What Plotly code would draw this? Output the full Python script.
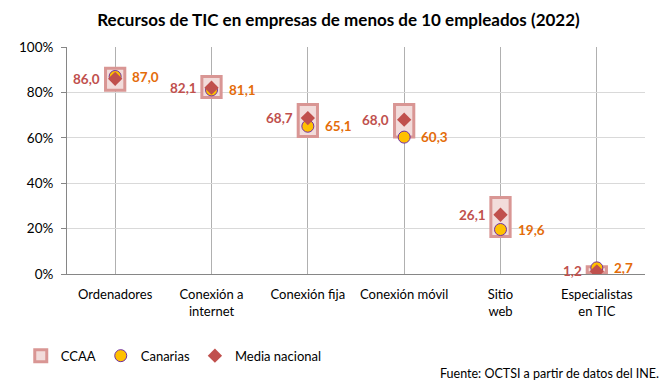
import plotly.graph_objects as go

categories = ["Ordenadores", "Conexión a<br>internet", "Conexión fija", "Conexión móvil", "Sitio<br>web", "Especialistas<br>en TIC"]
ccaa_min = [80.9, 77.8, 60.6, 60.3, 16.5, 0.5]
ccaa_max = [90.6, 87.0, 74.7, 74.7, 33.7, 3.2]
canarias = [87.0, 81.1, 65.1, 60.3, 19.6, 2.7]
media_nacional = [86.0, 82.1, 68.7, 68.0, 26.1, 1.2]
y_ticks = [0, 20, 40, 60, 80, 100]
y_tick_labels = [f"{v}%" for v in y_ticks]

FONT = "Lato"
RED = "#C0504D"
ORANGE = "#E46C0A"

def fmt(v):
    return f"{v:.1f}".replace(".", ",")

fig = go.Figure()
fig.add_trace(go.Bar(
    x=categories, y=[hi - lo for lo, hi in zip(ccaa_min, ccaa_max)], base=ccaa_min,
    width=0.2, name="CCAA",
    marker=dict(color="#F2DCDB", line=dict(color="#D99694", width=3)),
))
fig.add_trace(go.Scatter(
    x=categories, y=canarias, mode="markers", name="Canarias",
    marker=dict(symbol="circle", size=12, color="#FFC000", line=dict(color="#7030A0", width=1)),
))
fig.add_trace(go.Scatter(
    x=categories, y=media_nacional, mode="markers", name="Media nacional",
    marker=dict(symbol="diamond", size=11, color=RED),
))

for c, v in zip(categories, media_nacional):
    fig.add_annotation(x=c, y=v, text=f"<b>{fmt(v)}</b>", showarrow=False,
                       xanchor="right", yanchor="middle", xshift=-13,
                       font=dict(family=FONT, size=13.5, color=RED))
for c, v in zip(categories, canarias):
    fig.add_annotation(x=c, y=v, text=f"<b>{fmt(v)}</b>", showarrow=False,
                       xanchor="left", yanchor="middle", xshift=15,
                       font=dict(family=FONT, size=13.5, color=ORANGE))

fig.add_annotation(xref="paper", yref="paper", x=1.028, y=-0.44, xanchor="right", yanchor="middle",
                   text="Fuente: OCTSI a partir de datos del INE.", showarrow=False,
                   font=dict(family=FONT, size=12.5, color="#000000"))

fig.update_layout(
    width=661, height=378,
    margin=dict(l=59, r=24, t=39, b=112),
    paper_bgcolor="white", plot_bgcolor="white",
    barmode="overlay",
    font=dict(family=FONT, size=12.5, color="#000000"),
    title=dict(text="<b>Recursos de TIC en empresas de menos de 10 empleados (2022)</b>",
               x=0.5, xanchor="center", xref="container", y=0.968, yref="container", yanchor="middle",
               font=dict(family=FONT, size=17, color="#000000")),
    showlegend=True,
    legend=dict(orientation="h", x=-0.08, xanchor="left", y=-0.36, yanchor="middle",
                font=dict(family=FONT, size=13), itemwidth=30, tracegroupgap=0,
                bgcolor="rgba(0,0,0,0)"),
)
fig.update_xaxes(type="category", showgrid=True, gridcolor="#B0B0B0", gridwidth=1,
                 showline=True, linecolor="#868686", linewidth=1,
                 tickfont=dict(family=FONT, size=13, color="#000000"), ticks="",
                 ticklabelstandoff=8)
fig.update_yaxes(range=[0, 100], tickmode="array", tickvals=y_ticks, ticktext=y_tick_labels,
                 showgrid=True, gridcolor="#D9D9D9", gridwidth=1, zeroline=False,
                 showline=True, linecolor="#868686", linewidth=1,
                 ticks="outside", ticklen=5, tickcolor="#868686", tickwidth=1,
                 ticklabelstandoff=5,
                 tickfont=dict(family=FONT, size=13.5, color="#000000"))

fig.write_html("out.html")
